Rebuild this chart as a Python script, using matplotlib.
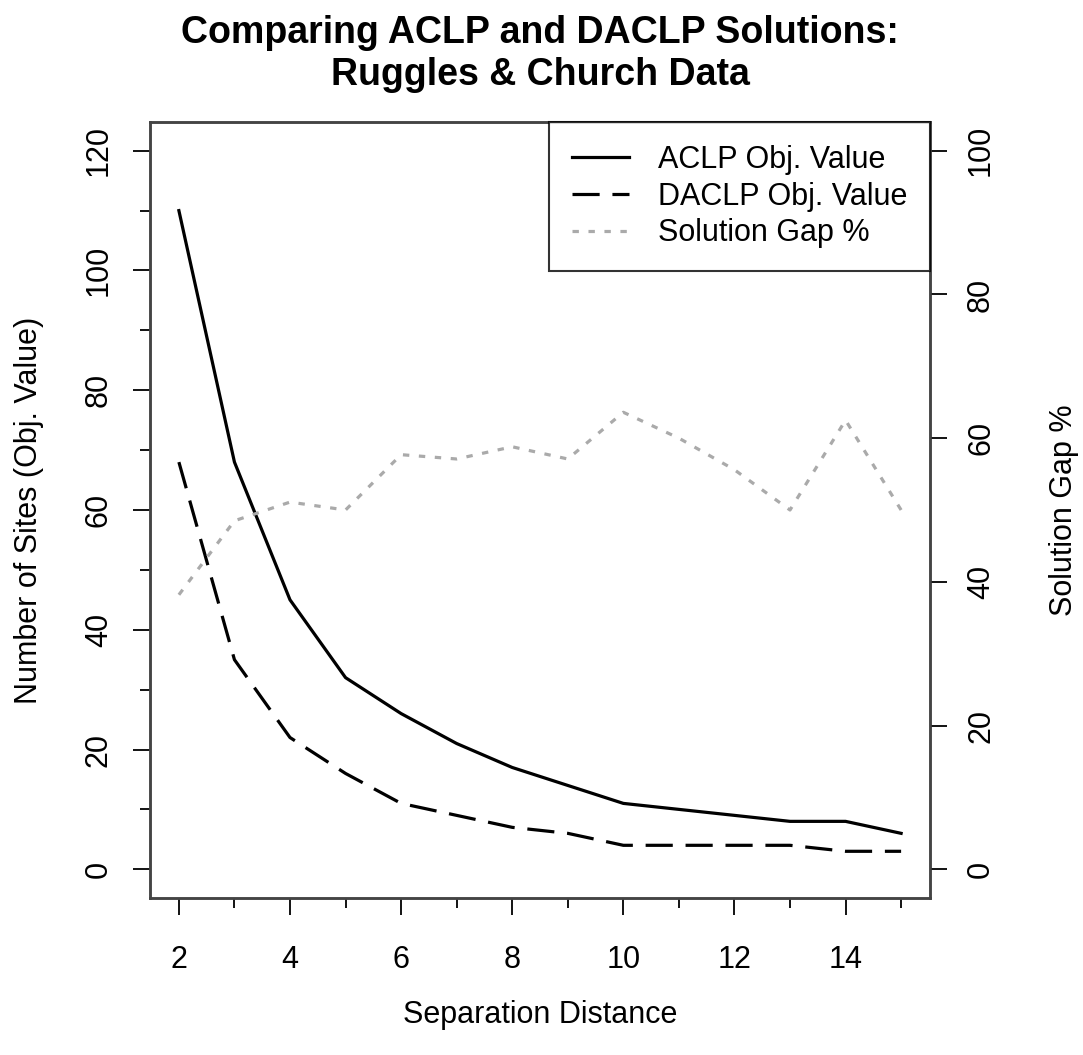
import matplotlib.pyplot as plt

plt.rcParams['font.family'] = ['Liberation Sans', 'DejaVu Sans']

# data
distance = [2, 3, 4, 5, 6, 7, 8, 9, 10, 11, 12, 13, 14, 15]
aclp = [110, 68, 45, 32, 26, 21, 17, 14, 11, 10, 9, 8, 8, 6]
daclp = [68, 35, 22, 16, 11, 9, 7, 6, 4, 4, 4, 4, 3, 3]
gap_pct = [38.2, 48.5, 51.1, 50.0, 57.7, 57.1, 58.8, 57.1, 63.6, 60.0, 55.6, 50.0, 62.5, 50.0]

left_ticks = [0, 20, 40, 60, 80, 100, 120]
left_minor = [10, 30, 50, 70, 90, 110]
right_ticks = [0, 20, 40, 60, 80, 100]
x_ticks = [2, 4, 6, 8, 10, 12, 14]
x_minor = [3, 5, 7, 9, 11, 13, 15]

fs = 22
frame_col = '#444444'

fig = plt.figure(figsize=(10.83, 10.55), dpi=100)
ax = fig.add_axes([150 / 1083, 157 / 1055, 780 / 1083, 776 / 1055])
ax2 = ax.twinx()

l1, = ax.plot(distance, aclp, color='black', lw=2.3, solid_joinstyle='round')
l2, = ax.plot(distance, daclp, color='black', lw=2.3, dashes=(8.5, 4))
l3, = ax2.plot(distance, gap_pct, color='#aaaaaa', lw=2.3, dashes=(2, 3))

ax.set_xlim(1.48, 15.52)
ax.set_ylim(-4.8, 124.8)
ax2.set_ylim(-4, 104)

ax.set_xticks(x_ticks)
ax.set_xticks(x_minor, minor=True)
ax.set_yticks(left_ticks)
ax.set_yticks(left_minor, minor=True)
ax2.set_yticks(right_ticks)

ax.tick_params(axis='both', which='major', direction='out', length=12, width=1.3,
               labelsize=fs, color='black')
ax.tick_params(axis='both', which='minor', direction='out', length=7, width=1.3, color='black')
ax.tick_params(axis='x', which='major', pad=22)
ax.tick_params(axis='y', which='major', pad=14)
ax2.tick_params(axis='y', which='major', direction='out', length=12, width=1.3,
                labelsize=fs, pad=14, color='black')
for lab in ax.get_yticklabels():
    lab.set_rotation(90)
    lab.set_va('center')
for lab in ax2.get_yticklabels():
    lab.set_rotation(90)
    lab.set_va('center')

for a in (ax, ax2):
    for s in a.spines.values():
        s.set_color(frame_col)
        s.set_linewidth(1.8)

ax.set_xlabel('Separation Distance', fontsize=fs, labelpad=18)
ax.set_ylabel('Number of Sites (Obj. Value)', fontsize=fs, labelpad=29)
ax2.set_ylabel('Solution Gap %', fontsize=fs, labelpad=38, rotation=90)

fig.suptitle('Comparing ACLP and DACLP Solutions:\nRuggles & Church Data',
             x=540 / 1083, y=1 - 15 / 1055, fontsize=27, fontweight='bold',
             linespacing=1.22, va='top')

leg = ax2.legend([l1, l2, l3], ['ACLP Obj. Value', 'DACLP Obj. Value', 'Solution Gap %'],
                 loc='upper right', fontsize=fs, frameon=True, fancybox=False,
                 borderaxespad=0, handlelength=1.85, handletextpad=0.95,
                 labelspacing=0.22, borderpad=0.75)
leg.get_frame().set_edgecolor('black')
leg.get_frame().set_linewidth(1.5)

fig.savefig('out.png', dpi=100)
